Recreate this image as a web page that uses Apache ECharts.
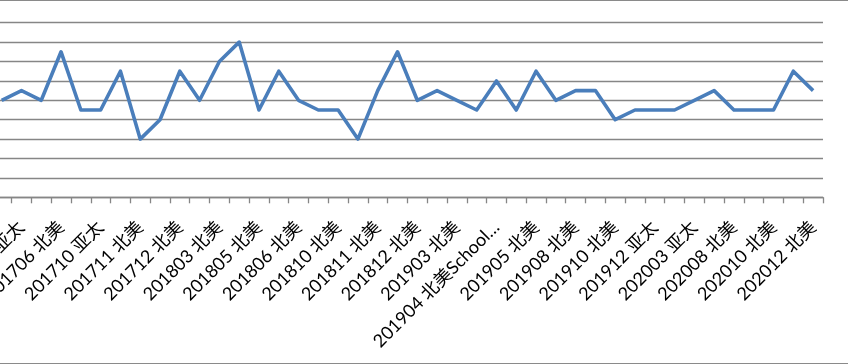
<!DOCTYPE html>
<html>
<head>
<meta charset="utf-8">
<script src="https://cdn.jsdelivr.net/npm/echarts@6/dist/echarts.min.js"></script>
<style>
html,body{margin:0;padding:0;background:#fff;}
#chart{width:848px;height:364px;}
</style>
</head>
<body>
<div id="chart"></div>
<script>
// Categories (only every other label is visible in the reference; hidden ones left blank)
var categories = [
  "", "亚太", "", "201706 北美", "", "201710 亚太", "", "201711 北美", "", "201712 北美",
  "", "201803 北美", "", "201805 北美", "", "201806 北美", "", "201810 北美", "", "201811 北美",
  "", "201812 北美", "", "201903 北美", "", "201904 北美School…", "", "201905 北美", "", "201908 北美",
  "", "201910 北美", "", "201912 亚太", "", "202003 亚太", "", "202008 北美", "", "202010 北美",
  "", "202012 北美"
];
var values = [
  5, 5.5, 5, 7.5, 4.5, 4.5, 6.5, 3, 4, 6.5,
  5, 7, 8, 4.5, 6.5, 5, 4.5, 4.5, 3, 5.5,
  7.5, 5, 5.5, 5, 4.5, 6, 4.5, 6.5, 5, 5.5,
  5.5, 4, 4.5, 4.5, 4.5, 5, 5.5, 4.5, 4.5, 4.5,
  6.5, 5.5
];
var yMin = 0, yMax = 9, yStep = 1;

var chart = echarts.init(document.getElementById('chart'), null, {renderer: 'canvas'});
chart.setOption({
  animation: false,
  backgroundColor: '#ffffff',
  graphic: [{
    type: 'rect',
    shape: {x: -10, y: 0.5, width: 870, height: 363},
    style: {fill: 'none', stroke: '#8a8a8a', lineWidth: 1},
    silent: true
  }],
  grid: {
    left: -8.2, right: 25, top: 22.7, bottom: 166.7,
    containLabel: false,
    outerBoundsMode: 'none'
  },
  xAxis: {
    type: 'category',
    data: categories,
    boundaryGap: true,
    axisLine: {show: true, lineStyle: {color: '#868686', width: 1.3}},
    axisTick: {show: true, interval: 0, length: 6, inside: false, lineStyle: {color: '#868686', width: 1.3}},
    axisLabel: {
      interval: 0,
      rotate: 45,
      margin: 27,
      color: '#000000',
      fontSize: 18,
      fontFamily: 'Lato, "Noto Sans CJK SC", sans-serif'
    },
    splitLine: {show: false}
  },
  yAxis: {
    type: 'value',
    min: yMin, max: yMax, interval: yStep,
    axisLine: {show: false},
    axisTick: {show: false},
    axisLabel: {show: false},
    splitLine: {show: true, lineStyle: {color: '#868686', width: 1.3}}
  },
  series: [{
    type: 'line',
    data: values,
    symbol: 'none',
    smooth: false,
    lineStyle: {color: '#4a7ebb', width: 3.6, join: 'round'},
    itemStyle: {color: '#4a7ebb'}
  }]
});
</script>
</body>
</html>
